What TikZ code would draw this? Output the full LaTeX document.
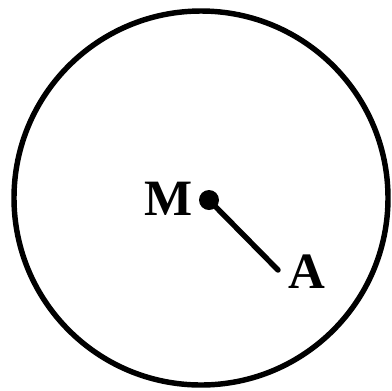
\documentclass[tikz,border=0pt]{standalone}
\usepackage{fontspec}
\setmainfont{Liberation Serif}
\begin{document}
\begin{tikzpicture}[
        x=0.02cm,
        y=-0.02cm,
        line cap=round,
        % 样式
        rim/.style={line width=3.1pt},
        arm/.style={line width=3.1pt},
        dot/.style={circle,fill=black,inner sep=0pt,minimum size=0.4cm},
        lab/.style={font=\fontsize{29}{31}\selectfont\bfseries,inner sep=0pt},
    ]
    \useasboundingbox (0,0) rectangle (392,390);

    % 圆
    \coordinate (O) at (201,198);
    \draw[rim] (O) circle (187);

    % 点与线段
    \node[dot] (M) at (209,200) {};
    \coordinate (A) at (278,270);
    \draw[arm] (M.center) -- (A);

    % 标签
    \node[lab,anchor=base east] (Mlab) at (193,215) {M};
    \node[lab,anchor=base west] (Alab) at (288,288) {A};
\end{tikzpicture}
\end{document}
